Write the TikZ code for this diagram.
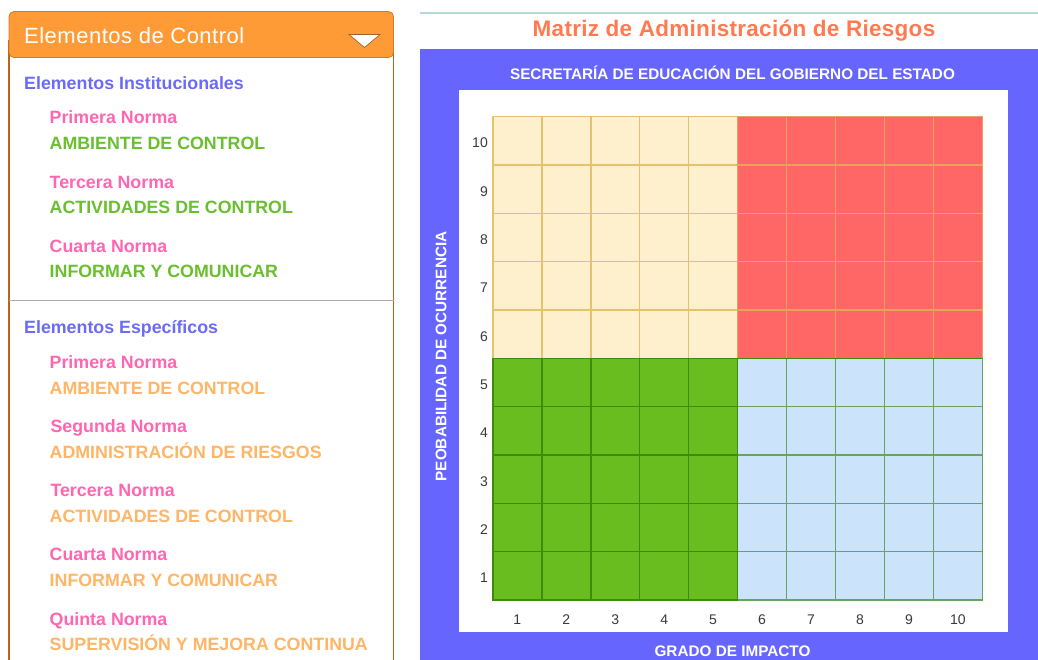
\documentclass[tikz,border=0pt]{standalone}
\usepackage{fontspec}
\setmainfont{Liberation Sans}
\newfontfamily\lsB[LetterSpace=1.3]{Liberation Sans}
\newfontfamily\lsC[LetterSpace=2.3]{Liberation Sans}
\definecolor{hdr}{HTML}{FF9B37}
\definecolor{hdrline}{HTML}{D27B25}
\definecolor{panelline}{HTML}{B8641E}
\definecolor{sepgray}{HTML}{ABABAB}
\definecolor{secblue}{HTML}{6B6BF7}
\definecolor{pinkn}{HTML}{FF66B2}
\definecolor{greent}{HTML}{6ABF2E}
\definecolor{oranget}{HTML}{FFB566}
\definecolor{coral}{HTML}{FF7A50}
\definecolor{violet}{HTML}{6666FF}
\definecolor{tealline}{HTML}{B4DCD6}
\definecolor{cream}{HTML}{FFF0CD}
\definecolor{creamline}{HTML}{E2C46E}
\definecolor{redc}{HTML}{FF6666}
\definecolor{redline}{HTML}{E9A15E}
\definecolor{greenc}{HTML}{6ABD1E}
\definecolor{greenline}{HTML}{3D8C0C}
\definecolor{bluec}{HTML}{CCE4FB}
\definecolor{blueline}{HTML}{6AA35E}
\definecolor{numgray}{HTML}{3A3A3A}
\tikzset{
  txt/.style={anchor=base west, inner sep=0pt},
  sechead/.style={txt, text=secblue, font=\bfseries\fontsize{17.8}{20}\selectfont},
  normname/.style={txt, text=pinkn, font=\bfseries\fontsize{17.8}{20}\selectfont},
  normgreen/.style={txt, text=greent, font=\bfseries\fontsize{17.8}{20}\selectfont},
  normorange/.style={txt, text=oranget, font=\bfseries\fontsize{17.8}{20}\selectfont},
  axislbl/.style={anchor=base, inner sep=0pt, text=white, font=\bfseries\fontsize{15.3}{18}\selectfont},
  numlbl/.style={inner sep=0pt, text=numgray, font=\fontsize{14}{16}\selectfont},
  cellA/.style={fill=cream, draw=creamline, line width=1.5pt},
  cellB/.style={fill=redc, draw=redline, line width=1.5pt},
  cellC/.style={fill=greenc, draw=greenline, line width=1.5pt},
  cellD/.style={fill=bluec, draw=blueline, line width=1.5pt}
}
\begin{document}
\begin{tikzpicture}[x=1pt,y=-1pt]
\useasboundingbox (0,0) rectangle (1038,660);
\fill[white] (0,0) rectangle (1038,660);

% ---------- left panel ----------
\draw[panelline, line width=1.2pt] (9,40) -- (9,661);
\draw[panelline, line width=1.2pt] (393.5,40) -- (393.5,661);
\filldraw[fill=hdr, draw=hdrline, line width=0.8pt, rounded corners=5pt] (9,11.5) rectangle (393.5,57.5);
\node[txt, text=white, font=\lsC\fontsize{22}{26}\selectfont] (hdrtitle) at (24,43.3) {Elementos de Control};
\filldraw[fill=white, draw=hdrline!80!black, line width=0.7pt] (349,34.5) -- (380,34.5) -- (364.5,47.5) -- cycle;

\node[sechead] (inst) at (24,89.3) {Elementos Institucionales};
\node[normname] (i1) at (49.5,124) {Primera Norma};
\node[normgreen] (i1t) at (49.5,149.3) {AMBIENTE DE CONTROL};
\node[normname] (i3) at (49.5,188.3) {Tercera Norma};
\node[normgreen] (i3t) at (49.5,213.8) {ACTIVIDADES DE CONTROL};
\node[normname] (i4) at (49.5,252.3) {Cuarta Norma};
\node[normgreen] (i4t) at (49.5,277.5) {INFORMAR Y COMUNICAR};

\draw[sepgray, line width=1pt] (9,300.7) -- (393.5,300.7);

\node[sechead] (esp) at (24,333.3) {Elementos Específicos};
\node[normname] (e1) at (49.5,368.3) {Primera Norma};
\node[normorange] (e1t) at (49.5,394) {AMBIENTE DE CONTROL};
\node[normname] (e2) at (50.3,432.7) {Segunda Norma};
\node[normorange] (e2t) at (49.5,458.3) {ADMINISTRACIÓN DE RIESGOS};
\node[normname] (e3) at (50.3,496.7) {Tercera Norma};
\node[normorange] (e3t) at (49.5,522.3) {ACTIVIDADES DE CONTROL};
\node[normname] (e4) at (49.5,560.7) {Cuarta Norma};
\node[normorange] (e4t) at (49.5,586) {INFORMAR Y COMUNICAR};
\node[normname] (e5) at (49.5,625) {Quinta Norma};
\node[normorange] (e5t) at (49.5,650) {SUPERVISIÓN Y MEJORA CONTINUA};

% ---------- right: matrix ----------
\draw[tealline, line width=1.2pt] (420,13) -- (1038,13);
\node[anchor=base, inner sep=0pt, text=coral, font=\lsB\bfseries\fontsize{22.5}{26}\selectfont] (mtitle) at (734,36.7) {Matriz de Administración de Riesgos};
\fill[violet] (420,49.3) rectangle (1038,660);
\fill[white] (459,90) rectangle (1008,632.3);
\node[axislbl] (secr) at (732.5,79.3) {SECRETARÍA DE EDUCACIÓN DEL GOBIERNO DEL ESTADO};
\node[axislbl] (grado) at (732.5,656) {GRADO DE IMPACTO};
\node[axislbl, rotate=90] (prob) at (446.3,356.4) {PEOBABILIDAD DE OCURRENCIA};

% cells: column c (1..10) left->right, row r (1..10) bottom->top
\foreach \c in {1,...,5} \foreach \r in {6,...,10}
  \draw[cellA] ({492.9+(\c-1)*48.94},{600-\r*48.33}) rectangle ({492.9+\c*48.94},{600-(\r-1)*48.33});
\foreach \c in {6,...,10} \foreach \r in {6,...,10}
  \draw[cellB] ({492.9+(\c-1)*48.94},{600-\r*48.33}) rectangle ({492.9+\c*48.94},{600-(\r-1)*48.33});
\foreach \c in {6,...,10} \foreach \r in {1,...,5}
  \draw[cellD] ({492.9+(\c-1)*48.94},{600-\r*48.33}) rectangle ({492.9+\c*48.94},{600-(\r-1)*48.33});
\foreach \c in {1,...,5} \foreach \r in {1,...,5}
  \draw[cellC] ({492.9+(\c-1)*48.94},{600-\r*48.33}) rectangle ({492.9+\c*48.94},{600-(\r-1)*48.33});
\draw[greenline, line width=1.5pt] (492.9,358.35) -- (982.3,358.35);

% axis numbers
\foreach \r in {1,...,10}
  \node[numlbl, anchor=base east] (row\r) at (488,{600-(\r-0.5)*48.33+7}) {\r};
\foreach \c in {1,...,10}
  \node[numlbl, anchor=base] (col\c) at ({492.9+(\c-0.5)*48.94},624) {\c};
\end{tikzpicture}
\end{document}
